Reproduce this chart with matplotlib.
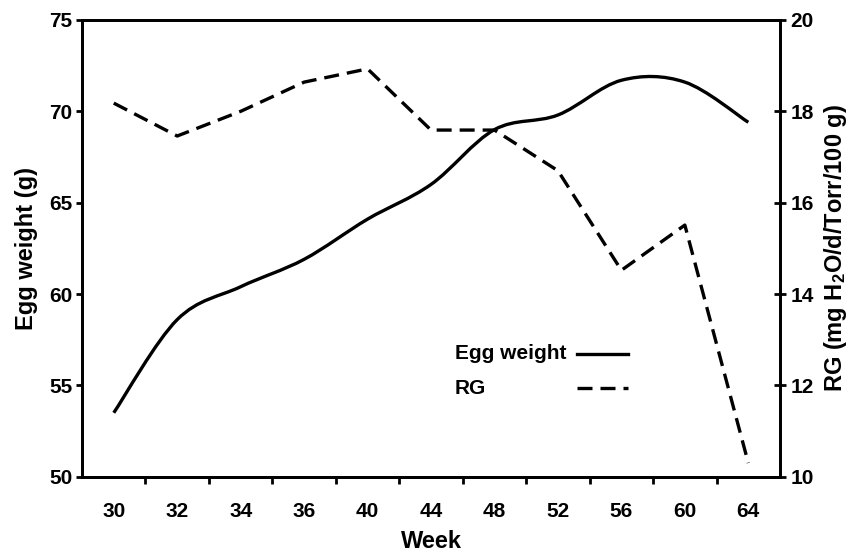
import matplotlib
matplotlib.use("Agg")
import matplotlib.pyplot as plt
import numpy as np
from matplotlib.path import Path
from matplotlib.patches import PathPatch

plt.rcParams['font.family'] = ['Liberation Sans', 'DejaVu Sans']
plt.rcParams['font.weight'] = 'bold'
plt.rcParams['mathtext.fontset'] = 'custom'
plt.rcParams['mathtext.rm'] = 'Liberation Sans:bold'
plt.rcParams['mathtext.default'] = 'rm'

weeks = ['30', '32', '34', '36', '40', '44', '48', '52', '56', '60', '64']
egg_weight = [53.5, 58.6, 60.4, 61.9, 64.1, 66.0, 69.0, 69.8, 71.7, 71.6, 69.4]
rg = [18.18, 17.46, 18.0, 18.64, 18.93, 17.59, 17.59, 16.7, 14.52, 15.51, 10.3]

DASH = (0, (4.5, 2.4))


def smooth_path(xs, ys):
    # Catmull-Rom through the points, drawn as cubic Bezier segments
    pts = np.column_stack([xs, ys]).astype(float)
    ext = np.vstack([pts[0], pts, pts[-1]])
    verts = [pts[0]]
    codes = [Path.MOVETO]
    for i in range(len(pts) - 1):
        p0, p1, p2, p3 = ext[i], ext[i + 1], ext[i + 2], ext[i + 3]
        verts += [p1 + (p2 - p0) / 6, p2 - (p3 - p1) / 6, p2]
        codes += [Path.CURVE4] * 3
    return Path(verts, codes)


fig = plt.figure(figsize=(8.51, 5.54), dpi=100)
ax = fig.add_axes([0.0964, 0.1395, 0.8202, 0.8244])
ax2 = ax.twinx()

x = np.arange(len(weeks))
ax.add_patch(PathPatch(smooth_path(x, egg_weight), facecolor='none',
                       edgecolor='black', lw=2.4, capstyle='butt'))
ax2.plot(x, rg, color='black', lw=2.4, linestyle=DASH)

ax.set_xlim(-0.5, len(weeks) - 0.5)
ax.set_ylim(50, 75)
ax2.set_ylim(10, 20)

ax.set_xticks(x)
ax.set_xticklabels(weeks)
ax.set_xticks(x[:-1] + 0.5, minor=True)
ax.tick_params(axis='x', which='major', length=0, pad=18, labelsize=15)
ax.tick_params(axis='x', which='minor', length=5, width=2, direction='out')
ax.set_yticks([50, 55, 60, 65, 70, 75])
ax.tick_params(axis='y', length=4, width=2, labelsize=15, pad=3)
ax2.set_yticks([10, 12, 14, 16, 18, 20])
ax2.tick_params(axis='y', length=9, width=2, direction='inout', labelsize=15, pad=3)

for a in (ax, ax2):
    for s in a.spines.values():
        s.set_linewidth(2)

ax.set_xlabel('Week', fontsize=17, fontweight='bold', labelpad=7)
ax.set_ylabel('Egg weight (g)', fontsize=17, fontweight='bold', labelpad=8)
ax2.set_ylabel('RG (mg H$_2$O/d/Torr/100 g)', fontsize=17, fontweight='bold', labelpad=6)

# legend: text on the left, line sample on the right
legend_rows = [('Egg weight', '-', 0.269), ('RG', DASH, 0.194)]
for label, style, ypos in legend_rows:
    ax.text(0.534, ypos, label, transform=ax.transAxes, fontsize=15,
            fontweight='bold', va='center', ha='left')
    ax.plot([0.709, 0.782], [ypos, ypos], transform=ax.transAxes,
            color='black', lw=2.4, linestyle=style)

fig.savefig('out.png', dpi=100)
